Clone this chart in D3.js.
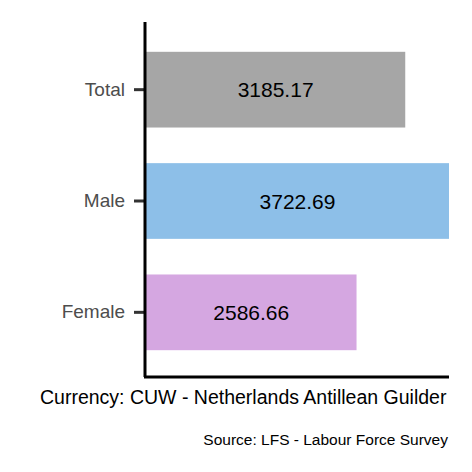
<!DOCTYPE html><html><head><script src="https://d3js.org/d3.v7.min.js"></script>
<style>body{margin:0;background:#fff}</style></head><body><svg id="c" width="472" height="472"></svg>
<script>
const categories=["Total","Male","Female"];
const values=[3185.17,3722.69,2586.66];
const colors=["#a6a6a6","#8dbfe8","#d5a7e1"];
const svg=d3.select("#c");
const font="Liberation Sans, Arial, sans-serif";
const x=d3.scaleLinear().domain([0,3722.69]).range([146,449]);
const y=d3.scaleBand().domain(categories).range([34,368]).paddingInner(0.32).paddingOuter(0.16);
svg.selectAll("rect").data(categories).join("rect")
 .attr("x",x(0)).attr("y",d=>y(d)).attr("height",y.bandwidth())
 .attr("width",(d,i)=>x(values[i])-x(0)).attr("fill",(d,i)=>colors[i]);
svg.selectAll("text.v").data(categories).join("text").attr("class","v")
 .attr("x",(d,i)=>(x(0)+x(values[i]))/2).attr("y",d=>y(d)+y.bandwidth()/2)
 .attr("dy","0.36em").attr("text-anchor","middle").attr("font-family",font).attr("font-size",21)
 .text((d,i)=>values[i].toFixed(2));
const ax=svg.append("g").attr("transform","translate(145,0)").call(d3.axisLeft(y).tickSize(11).tickPadding(9));
ax.select(".domain").remove();
ax.selectAll("line").attr("stroke","#333").attr("stroke-width",3);
ax.selectAll("text").attr("font-family",font).attr("font-size",19).attr("fill","#4d4d4d");
svg.append("line").attr("x1",145).attr("x2",145).attr("y1",22).attr("y2",377).attr("stroke","#000").attr("stroke-width",3);
svg.append("line").attr("x1",144).attr("x2",449).attr("y1",377).attr("y2",377).attr("stroke","#000").attr("stroke-width",3);
svg.append("text").attr("x",40).attr("y",404).attr("font-family",font).attr("font-size",19.5).text("Currency: CUW - Netherlands Antillean Guilder");
svg.append("text").attr("x",448).attr("y",445).attr("text-anchor","end").attr("font-family",font).attr("font-size",15.5).text("Source:  LFS - Labour Force Survey");
</script></body></html>
